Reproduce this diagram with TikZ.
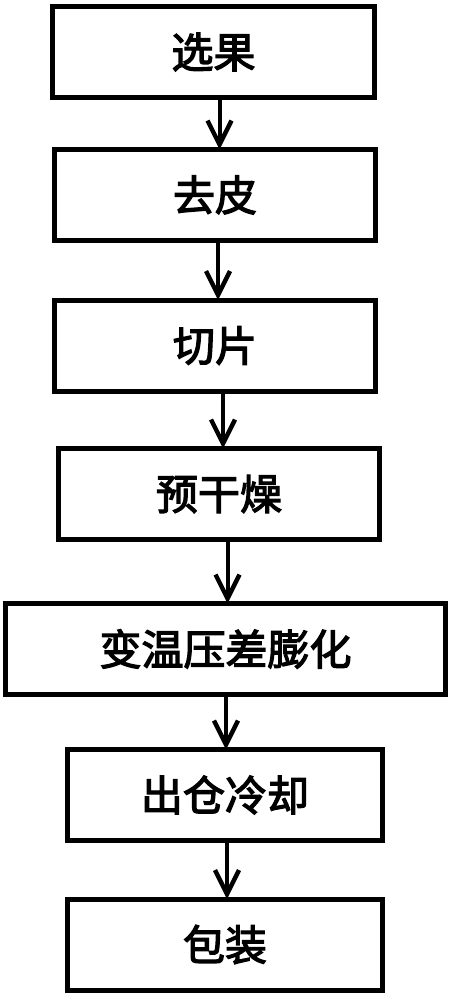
\documentclass[tikz,border=0pt]{standalone}
\usepackage{fontspec}
\newfontfamily\cjk[FakeBold=3]{Noto Sans CJK SC}
\usetikzlibrary{arrows.meta}

\begin{document}
\begin{tikzpicture}[x=0.5pt,y=-0.5pt]
\tikzset{step box/.style={draw,line width=2.5pt,outer sep=0pt,inner sep=0pt,minimum height=45.5pt,font=\cjk\fontsize{21pt}{25pt}\selectfont},
flow arrow/.style={line width=2pt,-{Straight Barb[length=12pt,width=12pt,line width=2.2pt]}}}
\useasboundingbox (0,0) rectangle (451,1000);

\node[step box,minimum width=161pt] (xuanguo) at (213.5,52) {选果};
\node[step box,minimum width=160.5pt] (qupi) at (215,195) {去皮};
\node[step box,minimum width=160.5pt] (qiepian) at (215,345.5) {切片};
\node[step box,minimum width=160.5pt] (yuganzao) at (219,494) {预干燥};
\node[step box,minimum width=220pt] (penghua) at (225.5,649) {变温压差膨化};
\node[step box,minimum width=157.5pt] (lengque) at (225,795) {出仓冷却};
\node[step box,minimum width=157.5pt] (baozhuang) at (225,944.5) {包装};

\draw[flow arrow] ([xshift=3pt]xuanguo.south) -- ([xshift=3pt]xuanguo.south |- qupi.north);
\draw[flow arrow] ([xshift=1.5pt]qupi.south) -- ([xshift=1.5pt]qupi.south |- qiepian.north);
\draw[flow arrow] ([xshift=2pt]qiepian.south -| yuganzao.north) -- ([xshift=2pt]yuganzao.north);
\draw[flow arrow] ([xshift=1pt]yuganzao.south -| penghua.north) -- ([xshift=1pt]penghua.north);
\draw[flow arrow] ([xshift=0.5pt]penghua.south -| lengque.north) -- ([xshift=0.5pt]lengque.north);
\draw[flow arrow] ([xshift=1pt]lengque.south) -- ([xshift=1pt]baozhuang.north);

\end{tikzpicture}
\end{document}
